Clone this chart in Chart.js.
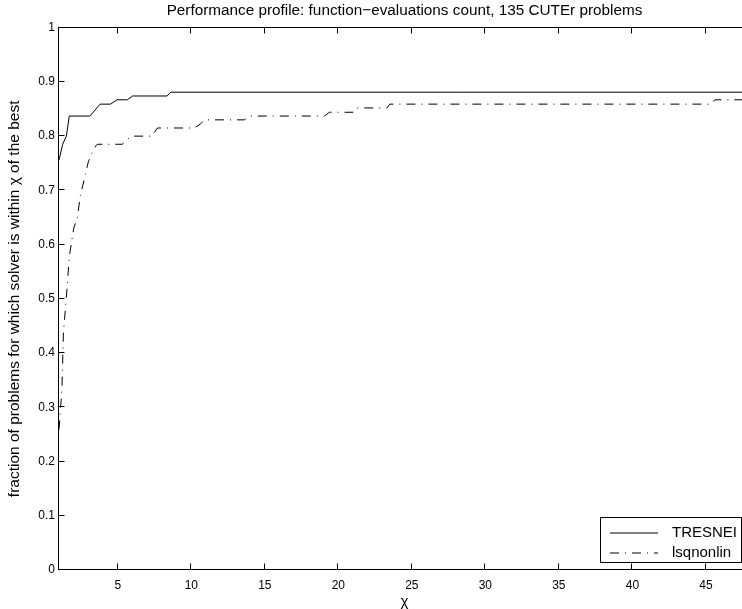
<!DOCTYPE html>
<html>
<head>
<meta charset="utf-8">
<title>Performance profile</title>
<script src="https://cdn.jsdelivr.net/npm/chart.js@4"></script>
<style>
  html, body { margin: 0; padding: 0; background: #fff; overflow: hidden; }
  #wrap { width: 750px; height: 609px; }
</style>
</head>
<body>
<div id="wrap"><canvas id="perfChart" width="750" height="609"></canvas></div>
<script>
// textos
const chartTitle = "Performance profile: function\u2212evaluations count, 135 CUTEr problems";
const xLabel = "\u03c7";
const yLabel = "fraction of problems for which solver is within \u03c7 of the best";

// ejes
const xMin = 1;
const xMax = 48;
const xTicks = [5, 10, 15, 20, 25, 30, 35, 40, 45];
const yTicks = [0, 0.1, 0.2, 0.3, 0.4, 0.5, 0.6, 0.7, 0.8, 0.9, 1];

// series
const seriesNames = ["TRESNEI", "lsqnonlin"];
const tresneiX = [1, 1.25, 1.5, 1.7, 3.1, 3.8, 4.5, 4.95, 5.65, 6.0, 8.35, 8.6, 48];
const tresneiY = [0.756, 0.785, 0.8, 0.837, 0.837, 0.859, 0.859, 0.867, 0.867, 0.874, 0.874, 0.881, 0.881];
const lsqX = [1, 1.2, 1.3, 1.55, 1.7, 2.0, 2.25, 2.45, 2.8, 3.0, 3.2, 3.4, 3.6, 5.3, 5.9, 7.3, 7.7,
  10.2, 10.6, 10.9, 13.6, 13.95, 19.05, 19.4, 21.0, 21.2, 23.3, 23.5, 45.35, 45.6, 48];
const lsqY = [0.259, 0.333, 0.437, 0.52, 0.578, 0.63, 0.65, 0.69, 0.73, 0.753, 0.766, 0.778, 0.785, 0.785, 0.8, 0.8, 0.815,
  0.815, 0.822, 0.83, 0.83, 0.837, 0.837, 0.844, 0.844, 0.852, 0.852, 0.859, 0.859, 0.867, 0.867];

const fontFamily = "'Liberation Sans', Arial, Helvetica, sans-serif";

function toPoints(xs, ys) {
  return xs.map((x, i) => ({ x: x, y: ys[i] }));
}

// caja estilo matlab: marco completo con ticks hacia adentro + leyenda
const matlabBox = {
  id: "matlabBox",
  afterDraw(chart) {
    const { ctx, chartArea: a, scales } = chart;
    const L = Math.round(a.left) - 0.5;
    const R = Math.round(a.right) - 0.5;
    const T = Math.round(a.top) - 0.5;
    const B = Math.round(a.bottom) - 0.5;
    const tick = 6;
    ctx.save();
    ctx.strokeStyle = "#000";
    ctx.lineWidth = 1;
    ctx.strokeRect(L, T, R - L, B - T);
    ctx.beginPath();
    xTicks.forEach((v) => {
      const px = Math.round(scales.x.getPixelForValue(v)) - 0.5;
      ctx.moveTo(px, B); ctx.lineTo(px, B - tick);
      ctx.moveTo(px, T); ctx.lineTo(px, T + tick);
    });
    yTicks.forEach((v) => {
      const py = Math.round(scales.y.getPixelForValue(v)) - 0.5;
      ctx.moveTo(L, py); ctx.lineTo(L + tick, py);
      ctx.moveTo(R, py); ctx.lineTo(R - tick, py);
    });
    ctx.stroke();

    // leyenda
    const boxL = 600.5, boxT = 517.5, boxR = 741.5, boxB = 562.5;
    ctx.fillStyle = "#fff";
    ctx.fillRect(boxL, boxT, boxR - boxL, boxB - boxT);
    ctx.strokeRect(boxL, boxT, boxR - boxL, boxB - boxT);
    ctx.font = "15px " + fontFamily;
    ctx.textBaseline = "middle";
    chart.data.datasets.forEach((ds, i) => {
      const y = boxT + 15.5 + i * 20;
      ctx.beginPath();
      ctx.setLineDash(ds.borderDash || []);
      ctx.strokeStyle = ds.borderColor;
      ctx.lineWidth = ds.borderWidth;
      ctx.moveTo(610, y); ctx.lineTo(658, y);
      ctx.stroke();
      ctx.setLineDash([]);
      ctx.fillStyle = "#000";
      ctx.fillText(ds.label, 672, y);
    });
    ctx.restore();
  },
};

new Chart(document.getElementById("perfChart"), {
  type: "line",
  data: {
    datasets: [
      {
        label: seriesNames[0],
        data: toPoints(tresneiX, tresneiY),
        borderColor: "#000",
        borderWidth: 1,
        pointRadius: 0,
        tension: 0,
      },
      {
        label: seriesNames[1],
        data: toPoints(lsqX, lsqY),
        borderColor: "#000",
        borderWidth: 1,
        borderDash: [9, 6, 1, 6],
        pointRadius: 0,
        tension: 0,
      },
    ],
  },
  options: {
    responsive: false,
    animation: false,
    devicePixelRatio: 1,
    layout: { padding: 0 },
    plugins: {
      legend: { display: false },
      tooltip: { enabled: false },
      title: {
        display: true,
        fullSize: false,
        text: chartTitle,
        color: "#000",
        font: { family: fontFamily, size: 15.3, weight: "normal" },
        padding: { top: 2, bottom: 7.3 },
      },
    },
    scales: {
      x: {
        type: "linear",
        min: xMin,
        max: xMax,
        afterBuildTicks: (axis) => { axis.ticks = xTicks.map((v) => ({ value: v })); },
        afterFit: (axis) => { axis.height = 39; },
        grid: { display: false, drawTicks: false },
        border: { display: false },
        ticks: {
          color: "#000",
          autoSkip: false,
          maxRotation: 0,
          padding: 8,
          font: { family: fontFamily, size: 12 },
        },
        title: {
          display: true,
          text: xLabel,
          color: "#000",
          font: { family: fontFamily, size: 15 },
          padding: { top: 0, bottom: -2 },
        },
      },
      y: {
        min: 0,
        max: 1,
        afterBuildTicks: (axis) => { axis.ticks = yTicks.map((v) => ({ value: v })); },
        afterFit: (axis) => { axis.width = 59; },
        grid: { display: false, drawTicks: false },
        border: { display: false },
        ticks: {
          color: "#000",
          autoSkip: false,
          padding: 4,
          font: { family: fontFamily, size: 12 },
          callback: (v) => String(v),
        },
        title: {
          display: true,
          text: yLabel,
          color: "#000",
          font: { family: fontFamily, size: 15.5 },
          padding: { top: 5, bottom: 0 },
        },
      },
    },
  },
  plugins: [matlabBox],
});
</script>
</body>
</html>
